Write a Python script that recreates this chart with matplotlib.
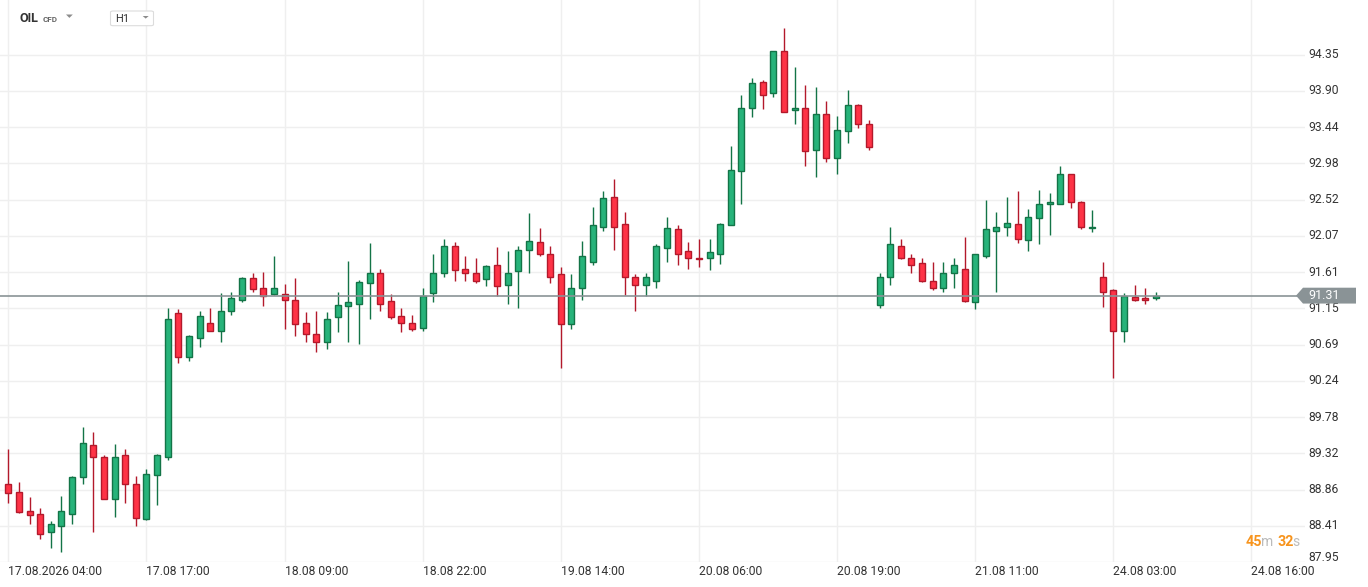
"""
OIL CFD, H1 candles (17.08 - 24.08) -> out.png
"""
import matplotlib
matplotlib.use("Agg")
import matplotlib.pyplot as plt
import matplotlib.transforms as mtransforms
from matplotlib.patches import Polygon, FancyBboxPatch
import numpy as np

plt.rcParams.update({
    "font.family": ["Roboto", "DejaVu Sans"],
    "font.size": 8.7,
})

# ── data ─────────────────────────────────────────────────────────────────────
OPEN = [88.94, 88.84, 88.60, 88.55, 88.33, 88.40, 88.56, 89.02, 89.43, 89.28,
        88.75, 89.30, 88.94, 88.49, 89.05, 89.28, 91.09, 90.53, 90.77, 90.97,
        90.87, 91.11, 91.26, 91.53, 91.41, 91.33, 91.33, 91.26, 90.97, 90.83,
        90.73, 91.04, 91.18, 91.21, 91.47, 91.59, 91.24, 91.05, 90.97, 90.90,
        91.34, 91.59, 91.93, 91.64, 91.60, 91.52, 91.69, 91.45, 91.62, 91.88,
        91.98, 91.84, 91.58, 90.95, 91.40, 91.74, 92.18, 92.55, 92.21, 91.55,
        91.44, 91.50, 91.91, 92.15, 91.87, 91.79, 91.78, 91.84, 92.20, 92.88,
        93.68, 94.00, 93.86, 94.39, 93.65, 93.67, 93.15, 93.60, 93.04, 93.38,
        93.72, 93.47, 91.19, 91.54, 91.94, 91.79, 91.72, 91.50, 91.41, 91.59,
        91.65, 91.23, 91.81, 92.13, 92.18, 92.21, 92.01, 92.29, 92.46, 92.47,
        92.84, 92.49, 92.16, 91.55, 91.38, 90.87, 91.29, 91.28, 91.28]
HIGH = [89.37, 88.96, 88.77, 88.63, 88.47, 88.78, 89.04, 89.65, 89.59, 89.30,
        89.44, 89.38, 89.04, 89.13, 89.31, 91.16, 91.14, 90.81, 91.12, 91.15,
        91.34, 91.36, 91.54, 91.60, 91.61, 91.81, 91.46, 91.53, 91.10, 91.12,
        91.10, 91.35, 91.75, 91.51, 91.97, 91.65, 91.33, 91.15, 91.07, 91.40,
        91.83, 92.02, 91.99, 91.81, 91.78, 91.70, 91.92, 91.87, 91.94, 92.35,
        92.16, 91.94, 91.67, 91.58, 92.00, 92.43, 92.63, 92.78, 92.36, 91.58,
        91.59, 91.96, 92.30, 92.20, 91.99, 92.02, 92.02, 92.22, 93.20, 93.84,
        94.05, 94.03, 94.40, 94.69, 94.19, 93.97, 93.94, 93.76, 93.57, 93.90,
        93.73, 93.53, 91.60, 92.17, 92.03, 91.84, 91.78, 91.74, 91.74, 91.78,
        92.05, 91.84, 92.52, 92.36, 92.56, 92.63, 92.40, 92.64, 92.60, 92.94,
        92.85, 92.50, 92.39, 91.74, 91.39, 91.34, 91.44, 91.41, 91.35]
LOW = [88.69, 88.57, 88.43, 88.24, 88.13, 88.08, 88.43, 88.94, 88.33, 88.74,
       88.52, 88.70, 88.41, 88.48, 88.67, 89.24, 90.46, 90.49, 90.66, 90.86,
       90.73, 91.07, 91.23, 91.35, 91.18, 91.32, 90.89, 90.80, 90.73, 90.60,
       90.64, 90.85, 90.72, 90.70, 91.02, 91.12, 91.02, 90.85, 90.87, 90.87,
       91.23, 91.55, 91.50, 91.49, 91.47, 91.43, 91.31, 91.20, 91.16, 91.60,
       91.81, 91.47, 90.40, 90.89, 91.26, 91.70, 92.13, 91.89, 91.32, 91.12,
       91.31, 91.41, 91.74, 91.69, 91.65, 91.67, 91.63, 91.71, 92.20, 92.47,
       93.56, 93.66, 93.81, 93.62, 93.47, 92.95, 92.81, 93.00, 92.84, 93.24,
       93.43, 93.15, 91.16, 91.45, 91.77, 91.60, 91.48, 91.38, 91.36, 91.40,
       91.23, 91.14, 91.78, 91.35, 92.06, 91.97, 91.87, 91.96, 92.07, 92.46,
       92.42, 92.15, 92.11, 91.17, 90.27, 90.73, 91.24, 91.20, 91.25]
CLOSE = [88.82, 88.58, 88.54, 88.31, 88.43, 88.59, 89.02, 89.45, 89.27, 88.75,
         89.28, 88.94, 88.50, 89.06, 89.30, 91.02, 90.53, 90.80, 91.05, 90.87,
         91.12, 91.28, 91.53, 91.39, 91.31, 91.41, 91.25, 90.95, 90.82, 90.72,
         91.02, 91.19, 91.23, 91.48, 91.59, 91.21, 91.04, 90.96, 90.89, 91.30,
         91.60, 91.93, 91.63, 91.59, 91.50, 91.68, 91.43, 91.60, 91.89, 92.00,
         91.83, 91.55, 90.95, 91.41, 91.81, 92.20, 92.54, 92.18, 91.54, 91.45,
         91.55, 91.93, 92.16, 91.84, 91.78, 91.77, 91.86, 92.21, 92.89, 93.68,
         93.99, 93.84, 94.39, 93.63, 93.68, 93.14, 93.60, 93.04, 93.40, 93.72,
         93.47, 93.19, 91.55, 91.96, 91.78, 91.70, 91.49, 91.41, 91.59, 91.69,
         91.24, 91.83, 92.15, 92.18, 92.22, 92.02, 92.30, 92.47, 92.49, 92.84,
         92.49, 92.17, 92.18, 91.35, 90.87, 91.30, 91.26, 91.25, 91.31]

TIME_LABELS = ["17.08.2026 04:00", "17.08 17:00", "18.08 09:00", "18.08 22:00",
               "19.08 14:00", "20.08 06:00", "20.08 19:00", "21.08 11:00",
               "24.08 03:00", "24.08 16:00"]
LABEL_STEP = 13  # one time label every 13 candles

PRICE_LABELS = ["87.95", "88.41", "88.86", "89.32", "89.78", "90.24", "90.69",
                "91.15", "91.61", "92.07", "92.52", "92.98", "93.44", "93.90",
                "94.35"]
PRICE_MIN, PRICE_MAX = 87.95, 94.35
LAST_PRICE = 91.31
SYMBOL, SYMBOL_KIND, INTERVAL = "OIL", "CFD", "H1"
TIMER_MIN, TIMER_SEC = "45", "32"

# ── style ────────────────────────────────────────────────────────────────────
UP_FILL, UP_EDGE = "#27b37a", "#137447"
DN_FILL, DN_EDGE = "#fe3346", "#b3192b"
GRID = "#efefef"
TXT = "#333333"
PRICE_GRAY = "#8a9396"
ORANGE = "#f7941d"

W, H = 1368, 587
AX_RIGHT = 1305  # px, where the plot area ends


def fx(x):
    return x / W


def fy(y):
    return 1 - y / H


def triangle(x0, y0, w, h, color):
    # small dropdown arrow, figure pixel coords (top-left corner)
    fig.patches.append(Polygon([(fx(x0), fy(y0)), (fx(x0 + w), fy(y0)),
                                (fx(x0 + w / 2), fy(y0 + h))], closed=True,
                               transform=fig.transFigure, facecolor=color,
                               edgecolor="none"))


fig = plt.figure(figsize=(W / 100, H / 100), dpi=100)
ax = fig.add_axes([0, 25 / H, AX_RIGHT / W, 1 - 25 / H])

o = np.array(OPEN)
h = np.array(HIGH)
l = np.array(LOW)
c = np.array(CLOSE)
x = np.arange(len(o))
up = c >= o

# wicks
ax.vlines(x[up], l[up], h[up], color=UP_EDGE, lw=1.0, zorder=2)
ax.vlines(x[~up], l[~up], h[~up], color=DN_EDGE, lw=1.0, zorder=2)
# bodies
body_lo = np.minimum(o, c)
body_h = np.maximum(np.abs(c - o), 0.012)
ax.bar(x[up], body_h[up], bottom=body_lo[up], width=0.56,
       color=UP_FILL, edgecolor=UP_EDGE, lw=1.0, zorder=3)
ax.bar(x[~up], body_h[~up], bottom=body_lo[~up], width=0.56,
       color=DN_FILL, edgecolor=DN_EDGE, lw=1.0, zorder=3)

# axes limits (1 candle = 10.625 px, first candle at x = 8.3 px)
ax.set_xlim(-8.3 / 10.625, (AX_RIGHT - 8.3) / 10.625)
ax.set_ylim(87.951, 95.038)

yt = np.linspace(PRICE_MIN, PRICE_MAX, len(PRICE_LABELS))
for v in yt:
    ax.axhline(v, color=GRID, lw=1.0, zorder=0)
xt = np.arange(len(TIME_LABELS)) * LABEL_STEP
for v in xt:
    ax.axvline(v, color=GRID, lw=1.0, zorder=0)

ax.set_xticks(xt)
ax.set_xticklabels(TIME_LABELS, ha="left", color=TXT)
ax.tick_params(axis="x", length=0, pad=2.5)
ax.set_yticks([])
for s in ax.spines.values():
    s.set_visible(False)

# price labels on the right
blend = mtransforms.blended_transform_factory(fig.transFigure, ax.transData)
for i, (v, lab) in enumerate(zip(yt, PRICE_LABELS)):
    tr = blend
    if i == 0:
        tr = blend + mtransforms.ScaledTranslation(0, 5 / 100, fig.dpi_scale_trans)
    ax.text(fx(1308), v, lab, transform=tr, ha="left", va="center",
            color=TXT, clip_on=False)

# last price line and tag
ax.axhline(LAST_PRICE, color=PRICE_GRAY, lw=1.2, zorder=4)
hh = 0.1
tag = Polygon([(fx(1296), LAST_PRICE), (fx(1303), LAST_PRICE + hh),
               (fx(1356), LAST_PRICE + hh), (fx(1356), LAST_PRICE - hh),
               (fx(1303), LAST_PRICE - hh)], closed=True,
              transform=blend, facecolor=PRICE_GRAY, edgecolor="none",
              clip_on=False, zorder=6)
ax.add_patch(tag)
ax.text(fx(1308), LAST_PRICE, f"{LAST_PRICE:.2f}", transform=blend,
        ha="left", va="center", color="white", fontsize=9,
        clip_on=False, zorder=7)

# header
fig.text(fx(20), fy(18.5), SYMBOL, fontsize=9, fontweight="bold", color=TXT,
         va="center", ha="left")
fig.text(fx(42.5), fy(19), SYMBOL_KIND, fontsize=5.8, fontweight="bold",
         color="#666666", va="center", ha="left")
triangle(66, 14.5, 6.8, 3.4, "#8c8c8c")
fig.patches.append(FancyBboxPatch((fx(110.5), fy(25.7)), fx(43), 14.7 / H,
                                  boxstyle="round,pad=0,rounding_size=0.002",
                                  transform=fig.transFigure, facecolor="white",
                                  edgecolor="#dcdcdc", lw=0.8))
fig.text(fx(115.5), fy(19), INTERVAL, fontsize=8, color=TXT, va="center",
         ha="left")
triangle(142.7, 16, 6.0, 2.6, "#8c8c8c")

# countdown timer
ty = fy(542.5)
fig.text(fx(1245.5), ty, TIMER_MIN, color=ORANGE, fontsize=10.3,
         fontweight="bold", va="center", ha="left")
fig.text(fx(1261), ty, "m", color="#bbbbbb", fontsize=10, va="center",
         ha="left")
fig.text(fx(1277), ty, TIMER_SEC, color=ORANGE, fontsize=10.3,
         fontweight="bold", va="center", ha="left")
fig.text(fx(1292.5), ty, "s", color="#bbbbbb", fontsize=10, va="center",
         ha="left")

fig.savefig("out.png", dpi=100)
